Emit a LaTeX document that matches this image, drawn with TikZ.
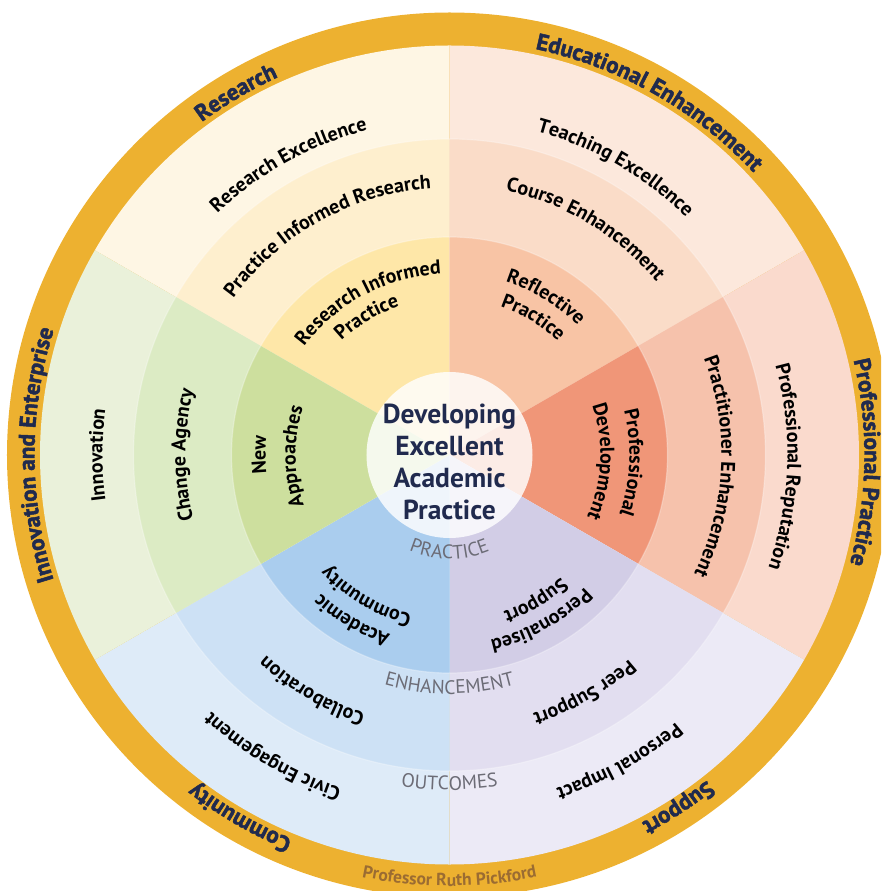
\documentclass[tikz,border=0pt]{standalone}
\usepackage{fontspec}
\setmainfont{PT Sans}
\newfontfamily\ringfont{PT Sans}[BoldFeatures={FakeBold=2}]
\usetikzlibrary{decorations.text}

% colours of the wheel
\definecolor{ring}{RGB}{237,177,48}
\definecolor{navy}{RGB}{32,42,78}
\definecolor{graytxt}{RGB}{108,108,118}
\definecolor{proftxt}{RGB}{155,108,50}
\definecolor{resO}{RGB}{254,246,228}
\definecolor{resM}{RGB}{254,239,206}
\definecolor{resI}{RGB}{254,231,168}
\definecolor{eduO}{RGB}{252,232,220}
\definecolor{eduM}{RGB}{250,220,200}
\definecolor{eduI}{RGB}{248,196,165}
\definecolor{proO}{RGB}{250,218,205}
\definecolor{proM}{RGB}{246,194,172}
\definecolor{proI}{RGB}{240,150,120}
\definecolor{supO}{RGB}{236,234,246}
\definecolor{supM}{RGB}{226,222,240}
\definecolor{supI}{RGB}{210,205,230}
\definecolor{comO}{RGB}{222,235,248}
\definecolor{comM}{RGB}{205,225,245}
\definecolor{comI}{RGB}{170,205,238}
\definecolor{innO}{RGB}{234,241,218}
\definecolor{innM}{RGB}{220,235,196}
\definecolor{innI}{RGB}{205,223,158}

% text formats
\newcommand{\ringfmt}{\ringfont\bfseries\fontsize{23}{26}\selectfont\color{navy}}
\newcommand{\bandfmt}{\bfseries\fontsize{20}{22}\selectfont\color{black}}
\newcommand{\grayfmt}{\fontsize{19.5}{22}\selectfont\color{graytxt}}
\newcommand{\proffmt}{\bfseries\fontsize{17.5}{20}\selectfont\color{proftxt}}

% curved labels: angle, radius, text
\newcommand{\cwlabel}[3]{%
  \path[decorate, decoration={text along path, text align=center, text={#3}}]
    ({#1+40}:#2) arc[start angle={#1+40}, end angle={#1-40}, radius=#2];}
\newcommand{\ccwlabel}[3]{%
  \path[decorate, decoration={text along path, text align=center, text={#3}}]
    ({#1-40}:#2) arc[start angle={#1-40}, end angle={#1+40}, radius=#2];}

\begin{document}
\begin{tikzpicture}[x=1pt, y=1pt,
    title/.style={align=center, text=navy, font=\bfseries\fontsize{27.5}{32}\selectfont}]
    \useasboundingbox (-449.5,-436) rectangle (431.5,455);
    \clip (-449.5,-436) rectangle (431.5,455);
    % Draw the outer ring
    \fill[ring] (0,0) circle[radius=442.5];
    % Draw the six sectors, three bands each
    \foreach \a/\co/\cm/\ci in {90/resO/resM/resI, 30/eduO/eduM/eduI, -30/proO/proM/proI,
                               -90/supO/supM/supI, -150/comO/comM/comI, 150/innO/innM/innI} {
        \fill[\co] (0,0) -- (\a:409.5) arc[start angle=\a, end angle=\a+60, radius=409.5] -- cycle;
        \fill[\cm] (0,0) -- (\a:316) arc[start angle=\a, end angle=\a+60, radius=316] -- cycle;
        \fill[\ci] (0,0) -- (\a:218) arc[start angle=\a, end angle=\a+60, radius=218] -- cycle;
    }
    % Faint band edges
    \draw[white, opacity=0.3, line width=1.2] (0,0) circle[radius=218] (0,0) circle[radius=316];
    % Centre disc and title
    \fill[white, fill opacity=0.82] (0,0) circle[radius=83];
    \node[title] (title) at (0,-6.5) {Developing\\Excellent\\Academic\\Practice};

    % Ring labels
    \cwlabel{120.5}{415}{|\ringfmt|Research}
    \cwlabel{60.5}{415}{|\ringfmt|Educational Enhancement}
    \cwlabel{-1}{415}{|\ringfmt|Professional Practice}
    \cwlabel{-57}{415}{|\ringfmt|Support}
    \cwlabel{-120}{415}{|\ringfmt|Community}
    \cwlabel{180}{415}{|\ringfmt|Innovation and Enterprise}
    \ccwlabel{-90}{431}{|\proffmt|Professor Ruth Pickford}

    % Research
    \cwlabel{119}{335}{|\bandfmt|Research Excellence}
    \cwlabel{119}{267}{|\bandfmt|Practice Informed Research}
    \cwlabel{118}{181}{|\bandfmt|Research Informed}
    \cwlabel{121}{157}{|\bandfmt|Practice}
    % Educational Enhancement
    \cwlabel{60}{335}{|\bandfmt|Teaching Excellence}
    \cwlabel{59}{270}{|\bandfmt|Course Enhancement}
    \cwlabel{58.6}{182}{|\bandfmt|Reflective}
    \cwlabel{58.7}{157}{|\bandfmt|Practice}
    % Professional Practice
    \cwlabel{-2}{338}{|\bandfmt|Professional Reputation}
    \cwlabel{-2.5}{272}{|\bandfmt|Practitioner Enhancement}
    \cwlabel{-2.5}{180}{|\bandfmt|Professional}
    \cwlabel{-2.5}{151}{|\bandfmt|Development}
    % Support
    \cwlabel{-61}{350}{|\bandfmt|Personal Impact}
    \cwlabel{-60.4}{272}{|\bandfmt|Peer Support}
    \cwlabel{-61}{189}{|\bandfmt|Personalised}
    \cwlabel{-59.4}{166}{|\bandfmt|Support}
    % Community
    \cwlabel{-120.4}{350}{|\bandfmt|Civic Engagement}
    \cwlabel{-120.2}{272}{|\bandfmt|Collaboration}
    \cwlabel{-120.6}{189}{|\bandfmt|Academic}
    \cwlabel{-120.3}{164}{|\bandfmt|Community}
    % Innovation and Enterprise
    \cwlabel{180}{347}{|\bandfmt|Innovation}
    \cwlabel{180}{264}{|\bandfmt|Change Agency}
    \cwlabel{180}{184}{|\bandfmt|New}
    \cwlabel{180.5}{154}{|\bandfmt|Approaches}

    % Band names
    \ccwlabel{-90}{104}{|\grayfmt|PRACTICE}
    \ccwlabel{-90}{239}{|\grayfmt|ENHANCEMENT}
    \ccwlabel{-90}{335}{|\grayfmt|OUTCOMES}
\end{tikzpicture}
\end{document}
